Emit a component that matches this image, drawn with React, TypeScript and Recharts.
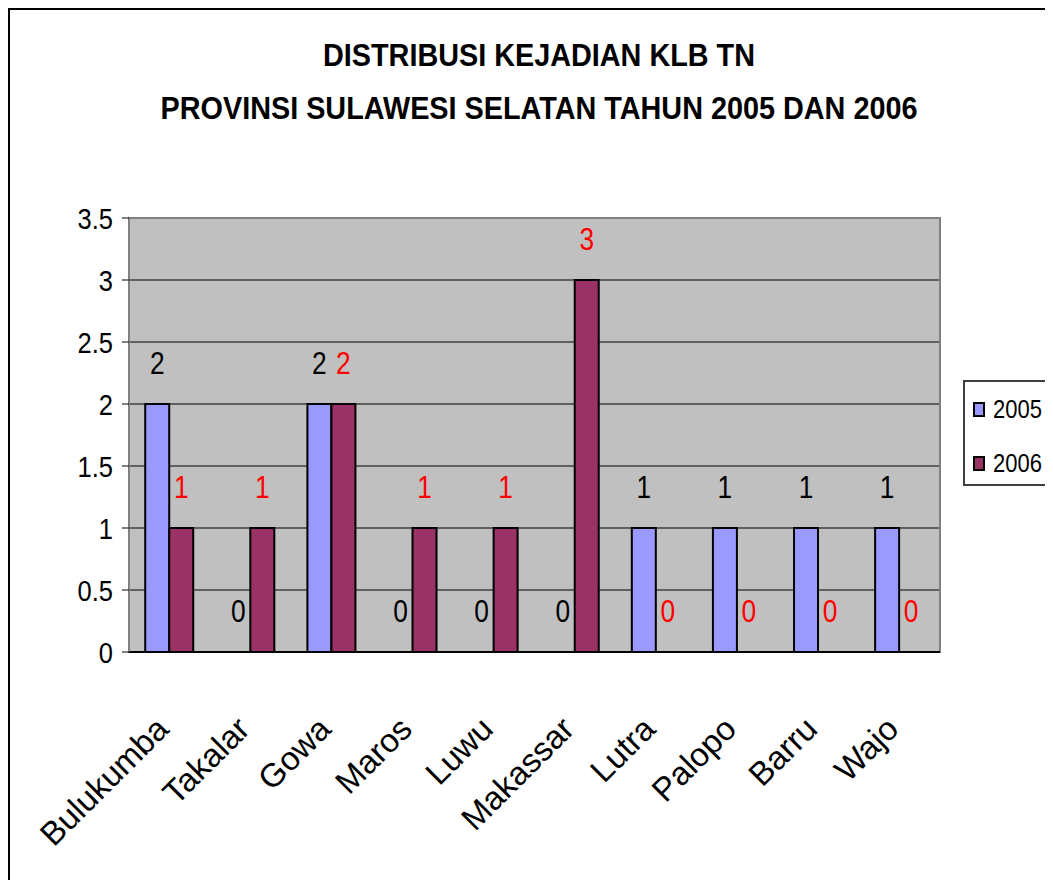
import { BarChart, Bar, XAxis, YAxis, CartesianGrid, Legend, LabelList, ReferenceArea, Rectangle } from "recharts";

// data
const regions = ["Bulukumba", "Takalar", "Gowa", "Maros", "Luwu", "Makassar", "Lutra", "Palopo", "Barru", "Wajo"];
const klb2005 = [2, 0, 2, 0, 0, 0, 1, 1, 1, 1];
const klb2006 = [1, 1, 2, 1, 1, 3, 0, 0, 0, 0];
const yTicks = [0, 0.5, 1, 1.5, 2, 2.5, 3, 3.5];
const edgeTicks = [0, 1, 2, 3, 4, 5, 6, 7, 8, 9, 10];

const data = regions.map((name, i) => ({ name, y2005: klb2005[i], y2006: klb2006[i] }));

const FONT = "'Liberation Sans', Arial, sans-serif";

// narrow-looking text: squeeze glyphs horizontally
const NarrowText = ({ x, y, sx, anchor, size, color, children }: any) => (
  <text
    transform={`translate(${x},${y}) scale(${sx},1)`}
    textAnchor={anchor}
    fontSize={size}
    fontFamily={FONT}
    fill={color}
  >
    {children}
  </text>
);

const CategoryTick = (props: any) => {
  const { x, y, payload } = props;
  const ax = x + 1;
  const ay = y + 79;
  return (
    <text
      x={ax}
      y={ay}
      transform={`rotate(-45, ${ax}, ${ay})`}
      textAnchor="end"
      fontSize={33}
      fontFamily={FONT}
      fill="#000"
    >
      {payload.value}
    </text>
  );
};

const ValueTick = (props: any) => {
  const { x, y, payload } = props;
  return (
    <NarrowText x={x} y={y + 10.5} sx={0.85} anchor="end" size={30} color="#000">
      {payload.value}
    </NarrowText>
  );
};

// zero-valued bars get a 1px min size so their labels exist; hide the rect itself
const BarShape = (props: any) => {
  if (!props.value) return <g />;
  return <Rectangle {...props} />;
};

const makeLabel = (color: string, key: string) => (props: any) => {
  const { x, y, width, height, index } = props;
  const v = data[index] ? (data[index] as any)[key] : props.value;
  const top = v === 0 ? y + height : y;
  return (
    <NarrowText x={x + width / 2} y={top - 30} sx={0.85} anchor="middle" size={31} color={color}>
      {v}
    </NarrowText>
  );
};

const LegendBox = (props: any) => {
  const items = props.payload || [];
  return (
    <div
      style={{
        position: "absolute",
        left: 0,
        top: 0,
        width: 110,
        height: 106,
        border: "2px solid #404040",
        boxSizing: "border-box",
        background: "#fff",
        fontFamily: FONT,
        fontSize: 25,
      }}
    >
      {items.map((it: any, i: number) => (
        <div
          key={it.value}
          style={{ position: "absolute", left: 8, top: 14 + i * 54, display: "flex", alignItems: "center", lineHeight: "26px" }}
        >
          <span
            style={{ display: "inline-block", width: 8, height: 11, background: it.color, border: "2px solid #000", marginRight: 8 }}
          />
          <span style={{ display: "inline-block", transform: "scaleX(0.88)", transformOrigin: "left center" }}>{it.value}</span>
        </div>
      ))}
    </div>
  );
};

export default function App() {
  return (
    <div
      style={{
        position: "relative",
        width: 1045,
        height: 872,
        borderLeft: "2px solid #000",
        borderTop: "2px solid #000",
        boxSizing: "border-box",
        overflow: "hidden",
        background: "#fff",
      }}
    >
      <style>{`html,body{overflow:hidden}`}</style>
      <div
        style={{
          position: "absolute",
          left: 529,
          top: 19,
          transform: "translateX(-50%) scaleX(0.9)",
          whiteSpace: "nowrap",
          textAlign: "center",
          fontFamily: FONT,
          fontWeight: "bold",
          fontSize: 32,
          lineHeight: "53px",
          color: "#000",
        }}
      >
        DISTRIBUSI KEJADIAN KLB TN
        <br />
        PROVINSI SULAWESI SELATAN TAHUN 2005 DAN 2006
      </div>
      <BarChart
        width={1043}
        height={870}
        data={data}
        margin={{ top: 208, right: 113, left: 0, bottom: 0 }}
        barCategoryGap="20%"
        barGap={0}
      >
        <CartesianGrid fill="#C0C0C0" stroke="#000" vertical={false} />
        <ReferenceArea y1={0} y2={3.5} fill="none" stroke="#808080" strokeWidth={2} />
        <XAxis
          xAxisId="edge"
          type="number"
          domain={[0, 10]}
          ticks={edgeTicks}
          allowDataOverflow
          height={0}
          tick={false}
          tickSize={12}
          tickLine={{ stroke: "#000" }}
          axisLine={false}
        />
        <XAxis
          dataKey="name"
          height={228}
          interval={0}
          tickLine={false}
          tickSize={0}
          tickMargin={0}
          axisLine={{ stroke: "#000", strokeWidth: 2 }}
          tick={<CategoryTick />}
        />
        <YAxis
          width={119}
          domain={[0, 3.5]}
          ticks={yTicks}
          tickSize={7}
          tickMargin={9}
          axisLine={{ stroke: "#808080" }}
          tickLine={{ stroke: "#000" }}
          tick={<ValueTick />}
        />
        <Legend
          layout="vertical"
          align="right"
          verticalAlign="middle"
          content={<LegendBox />}
          wrapperStyle={{ left: 953, top: 370, width: 0, height: 0 }}
        />
        <Bar
          dataKey="y2005"
          name="2005"
          fill="#9999FF"
          stroke="#000"
          strokeWidth={2}
          minPointSize={1}
          shape={<BarShape />}
          isAnimationActive={false}
        >
          <LabelList dataKey="y2005" content={makeLabel("#000", "y2005")} />
        </Bar>
        <Bar
          dataKey="y2006"
          name="2006"
          fill="#993366"
          stroke="#000"
          strokeWidth={2}
          minPointSize={1}
          shape={<BarShape />}
          isAnimationActive={false}
        >
          <LabelList dataKey="y2006" content={makeLabel("#FF0000", "y2006")} />
        </Bar>
      </BarChart>
    </div>
  );
}
